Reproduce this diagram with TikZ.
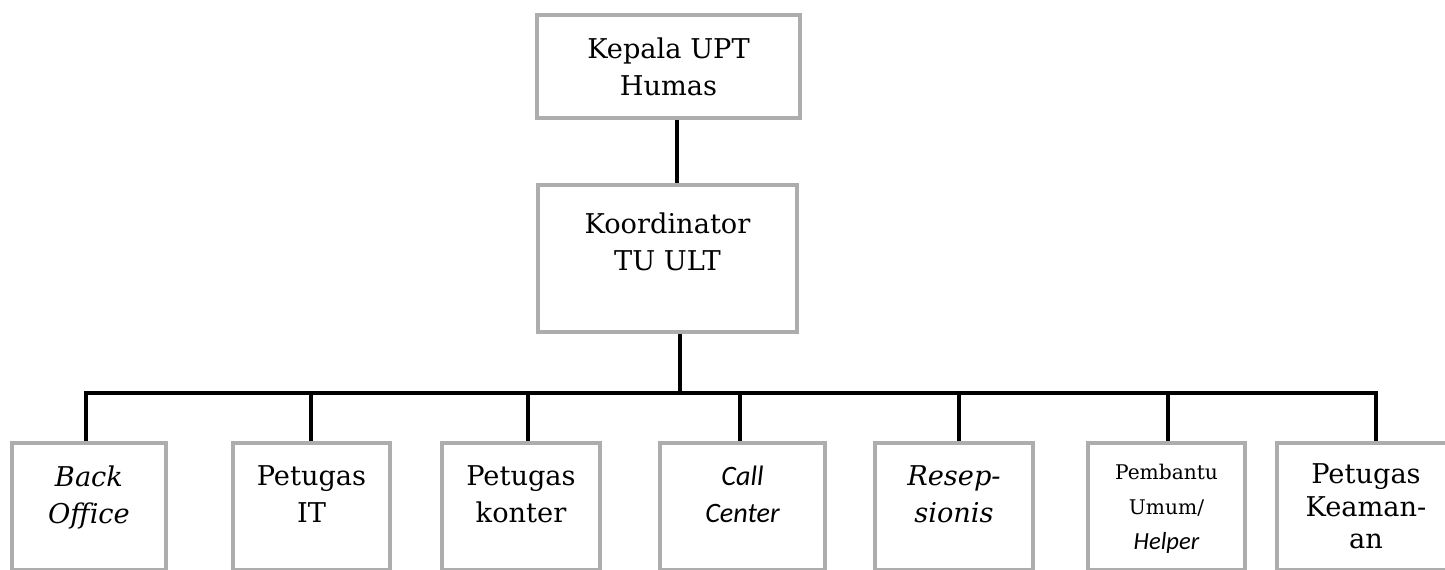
\documentclass[tikz,border=0pt]{standalone}
\usepackage{fontspec}
\setmainfont{DejaVu Serif}
\newfontfamily\callfont{Carlito}
\usetikzlibrary{positioning}

\newlength{\pxu}
\setlength{\pxu}{0.02cm}
% box text, pinned to the top of the box
\newcommand{\cell}[4][23]{\parbox[c][#3\pxu][t]{#2\pxu}{\centering\vspace*{#1\pxu}#4}}

\begin{document}
\begin{tikzpicture}[
        x=0.02cm, y=-0.02cm,
        every node/.style={font=\fontsize{15.5}{21}\selectfont},
        unit/.style={
            draw=black!32,
            line width=2.6pt,
            inner sep=0pt
        },
        link/.style={draw=black, line width=2.2pt}
    ]
        \clip (0,0) rectangle (1445,570);

        % Top
        \node[unit] (kepala) at (668.5,66.5) {\cell{263}{103}{Kepala UPT\\Humas}};
        \node[unit] (koord) at (667.5,258.5) {\cell[28]{259}{147}{Koordinator\\TU ULT}};

        % Staff row
        \node[unit] (back) at (89,506.5) {\cell{154}{127}{\itshape Back\\Office}};
        \node[unit] (it) at (311.5,506.5) {\cell{157}{127}{Petugas\\IT}};
        \node[unit] (konter) at (521,506.5) {\cell{158}{127}{Petugas\\konter}};
        \node[unit] (call) at (742.5,506.5) {\cell{165}{127}{\callfont\itshape\fontsize{16}{21}\selectfont Call\\Center}};
        \node[unit] (resep) at (954,506.5) {\cell{158}{127}{\itshape Resep-\\sionis}};
        \node[unit] (pembantu) at (1166.5,506.5) {\cell[21]{157}{127}{\fontsize{11.5}{20}\selectfont Pembantu\\Umum/\\{\callfont\itshape\fontsize{14}{20}\selectfont Helper}}};
        \node[unit] (keamanan) at (1366,506.5) {\cell[21]{178}{127}{\fontsize{15.5}{18.5}\selectfont Petugas\\Keaman-\\an}};

        % Bus points
        \coordinate (topdrop) at (677,150);
        \coordinate (bus) at (680,393);
        \coordinate (d1) at (86,393);
        \coordinate (d2) at (311,393);
        \coordinate (d3) at (528,393);
        \coordinate (d4) at (740,393);
        \coordinate (d5) at (959,393);
        \coordinate (d6) at (1168,393);
        \coordinate (d7) at (1376,393);

        % Lines
        \draw[link] (kepala.south -| topdrop) -- (koord.north -| topdrop);
        \draw[link] (koord.south -| bus) -- (bus);
        \draw[link] (back.north -| d1) -- (d1) -- (d7) -- (keamanan.north -| d7);
        \draw[link] (d2) -- (it.north -| d2);
        \draw[link] (d3) -- (konter.north -| d3);
        \draw[link] (d4) -- (call.north -| d4);
        \draw[link] (d5) -- (resep.north -| d5);
        \draw[link] (d6) -- (pembantu.north -| d6);

    \end{tikzpicture}
\end{document}
